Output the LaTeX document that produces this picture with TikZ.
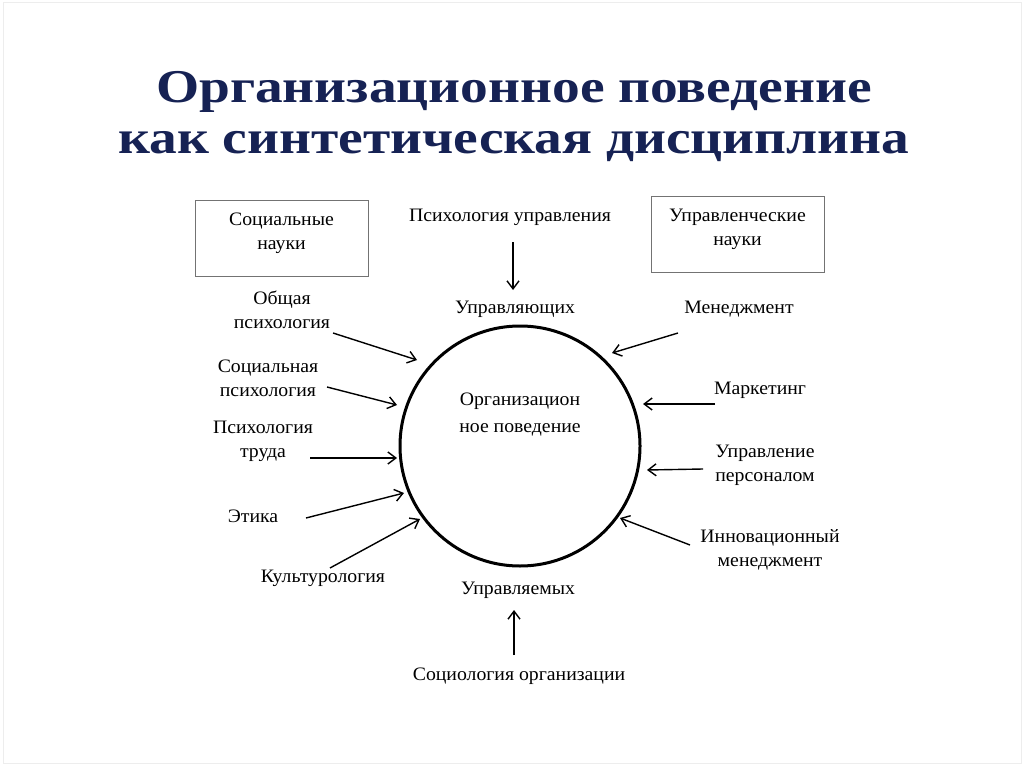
\documentclass[tikz,border=0pt]{standalone}
\usepackage{fontspec}
\setmainfont[FakeStretch=1.04]{Liberation Serif}
\newfontfamily\titlefont[FakeStretch=1.18]{Liberation Serif}
\usetikzlibrary{arrows.meta,positioning}
\definecolor{titleblue}{RGB}{22,34,84}

\tikzset{
  lbl/.style={align=center, inner sep=0pt, font=\fontsize{19}{24}\selectfont},
  sbox/.style={draw=black!55, line width=0.8pt, minimum width=173pt, minimum height=76pt, inner sep=0pt},
  arr/.style={line width=1.4pt, -{Straight Barb[length=8pt,width=12pt]}},
}

\begin{document}
\begin{tikzpicture}[x=1pt, y=-1pt]
  \useasboundingbox (0,0) rectangle (1024,767);
  \draw[black!7, line width=1pt] (3,3) rectangle (1021,763);

  % title
  \node[align=center, inner sep=0pt, text=titleblue,
        font=\titlefont\bfseries\fontsize{47}{51}\selectfont] (title) at (514,117)
        {Организационное поведение\\как синтетическая дисциплина};

  % boxes
  \node[sbox] (socbox) at (281.5,238) {};
  \node[lbl, below=13pt of socbox.north] (soc) {Социальные\\науки};
  \node[sbox] (uprbox) at (737.5,234) {};
  \node[lbl, below=13pt of uprbox.north] (uprn) {Управленческие\\науки};

  % centre
  \node[draw, circle, line width=3pt, minimum size=240pt, inner sep=0pt] (org) at (520,446) {};
  \node[lbl, font=\fontsize{19}{27}\selectfont] (orgtxt) at (520,415) {Организацион\\ное поведение};

  % top and bottom
  \node[lbl] (psyupr) at (510,217) {Психология управления};
  \node[lbl] (upr) at (515,309) {Управляющих};
  \node[lbl] (uprm) at (518,590) {Управляемых};
  \node[lbl] (socorg) at (519,676) {Социология организации};
  \draw[arr] (513,242) coordinate (a0) -- (513,290) coordinate (b0);
  \draw[arr] (514,655) coordinate (a1) -- (514,610) coordinate (b1);

  % left
  \node[lbl] (obsh) at (282,310) {Общая\\психология};
  \node[lbl] (socps) at (268,378) {Социальная\\психология};
  \node[lbl] (trud) at (263,441) {Психология\\труда};
  \node[lbl] (etika) at (253,516) {Этика};
  \node[lbl] (kult) at (323,578) {Культурология};
  \coordinate (la) at (333,333); \coordinate (lA) at (417,360);
  \coordinate (lb) at (327,387); \coordinate (lB) at (397,405);
  \coordinate (lc) at (310,458); \coordinate (lC) at (397,458);
  \coordinate (ld) at (306,518); \coordinate (lD) at (404,493);
  \coordinate (le) at (330,568); \coordinate (lE) at (420,519);
  \draw[arr] (la) -- (lA);
  \draw[arr] (lb) -- (lB);
  \draw[arr] (lc) -- (lC);
  \draw[arr] (ld) -- (lD);
  \draw[arr] (le) -- (lE);

  % right
  \node[lbl] (men) at (739,309) {Менеджмент};
  \node[lbl] (mark) at (760,390) {Маркетинг};
  \node[lbl] (pers) at (765,465) {Управление\\персоналом};
  \node[lbl] (innov) at (770,550) {Инновационный\\менеджмент};
  \coordinate (ra) at (678,333); \coordinate (rA) at (612,353);
  \coordinate (rb) at (715,404); \coordinate (rB) at (643,404);
  \coordinate (rc) at (703,469); \coordinate (rC) at (647,470);
  \coordinate (rd) at (690,545); \coordinate (rD) at (620,518);
  \draw[arr] (ra) -- (rA);
  \draw[arr] (rb) -- (rB);
  \draw[arr] (rc) -- (rC);
  \draw[arr] (rd) -- (rD);
\end{tikzpicture}
\end{document}
